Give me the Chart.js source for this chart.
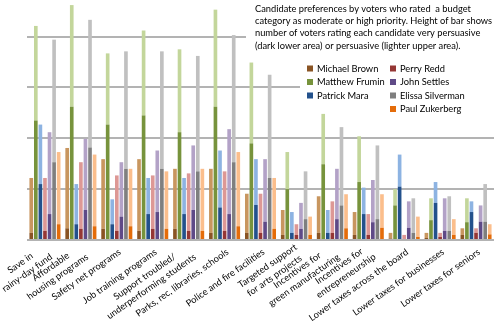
<!DOCTYPE html>
<html>
<head>
<meta charset="utf-8">
<script src="https://cdn.jsdelivr.net/npm/chart.js@4/dist/chart.umd.min.js"></script>
<style>
  html, body { margin: 0; padding: 0; background: #fff; }
  #wrap { width: 500px; height: 323px; }
</style>
</head>
<body>
<div id="wrap"><canvas id="prefChart"></canvas></div>
<script>
const categories = [
  ['Save in', 'rainy-day fund'],
  ['Affordable', 'housing programs'],
  'Safety net programs',
  'Job training programs',
  ['Support troubled/', 'underperforming students'],
  'Parks, rec, libraries, schools',
  'Police and fire facilities',
  ['Targeted support', 'for arts projects'],
  ['Incentives for', 'green manufacturing'],
  ['Incentives for', 'entrepreneurship'],
  'Lower taxes across the board',
  'Lower taxes for businesses',
  'Lower taxes for seniors'
];

const candidates = ['Michael Brown', 'Matthew Frumin', 'Patrick Mara', 'Perry Redd',
  'John Settles', 'Elissa Silverman', 'Paul Zukerberg'];

// dark lower part = very persuasive, light upper part = persuasive
const brownVery = [1.4, 2.3, 2.2, 1.8, 2.2, 1.4, 1.4, 1.0, 1.4, 1.0, 0.3, 0.4, 1.0];
const brownPers = [10.8, 15.8, 13.7, 14.1, 11.8, 12.6, 7.7, 4.9, 7.2, 4.5, 1.1, 1.0, 1.3];
const fruminVery = [23.5, 26.2, 22.7, 24.5, 21.2, 26.2, 19.0, 10.0, 14.9, 11.4, 6.8, 3.9, 3.5];
const fruminPers = [18.6, 20.0, 14.0, 16.7, 16.3, 19.1, 15.9, 7.3, 9.9, 9.0, 3.2, 4.3, 4.7];
const maraVery = [11.0, 3.1, 3.1, 5.1, 5.1, 6.4, 6.9, 1.4, 1.4, 5.1, 10.5, 7.3, 5.5];
const maraPers = [11.7, 7.9, 4.9, 7.1, 7.1, 11.2, 9.0, 4.1, 4.5, 5.2, 6.3, 4.1, 2.1];
const reddVery = [1.8, 2.2, 1.8, 2.2, 1.8, 1.8, 1.4, 1.0, 1.4, 1.0, 0.2, 0.6, 1.4];
const reddPers = [10.4, 13.1, 10.9, 10.5, 11.3, 11.7, 7.7, 2.1, 6.2, 4.1, 0.8, 0.8, 0.9];
const settlesVery = [5.1, 5.9, 4.6, 5.5, 5.9, 5.1, 3.6, 2.2, 4.1, 3.5, 2.4, 1.8, 3.6];
const settlesPers = [16.1, 14.0, 10.7, 12.1, 12.7, 16.7, 12.3, 5.1, 9.9, 8.3, 5.2, 6.4, 3.2];
const silvermanVery = [15.3, 18.2, 14.0, 14.0, 13.5, 15.3, 12.2, 4.1, 6.8, 4.1, 1.4, 1.8, 3.6];
const silvermanPers = [24.1, 25.1, 23.1, 23.1, 22.7, 25.0, 20.3, 9.4, 15.4, 14.5, 6.8, 6.8, 7.4];
const zukerbergVery = [3.1, 2.7, 2.7, 2.2, 1.8, 2.7, 2.2, 1.0, 2.3, 2.4, 0.6, 1.0, 1.1];
const zukerbergPers = [14.2, 14.1, 11.3, 11.3, 12.2, 14.6, 10.0, 3.6, 6.7, 6.6, 4.0, 3.1, 2.0];

const yTicks = [0, 10, 20, 30, 40];

const noteLines = [
  'Candidate preferences by voters who rated  a budget',
  'category as moderate or high priority. Height of bar shows',
  'number of voters rating each candidate very persuasive',
  '(dark lower area) or persuasive (lighter upper area).'
];

const veryValues = [brownVery, fruminVery, maraVery, reddVery, settlesVery, silvermanVery, zukerbergVery];
const persValues = [brownPers, fruminPers, maraPers, reddPers, settlesPers, silvermanPers, zukerbergPers];
const darkColors = ['#8a5424', '#77933c', '#23518c', '#953735', '#5f4a87', '#7f7f7f', '#e46c0a'];
const lightColors = ['#c8965f', '#c3d69b', '#8db3e2', '#dd9895', '#b3a2c7', '#c0c0c0', '#fbbe8c'];

const FONT = '9.3px Lato, "Liberation Sans", sans-serif';

const datasets = [];
candidates.forEach((name, i) => {
  datasets.push({
    label: name,
    data: veryValues[i],
    backgroundColor: darkColors[i],
    stack: 's' + i,
    categoryPercentage: 0.89,
    barPercentage: 0.8
  });
  datasets.push({
    label: name + ' (persuasive)',
    data: persValues[i],
    backgroundColor: lightColors[i],
    stack: 's' + i,
    categoryPercentage: 0.89,
    barPercentage: 0.8
  });
});

// white boxes for the note and legend, drawn over the grid but under the bars
const notesPlugin = {
  id: 'notes',
  beforeDatasetsDraw(chart) {
    const ctx = chart.ctx;
    ctx.save();
    ctx.fillStyle = '#ffffff';
    ctx.fillRect(246, 0, 254, 53);
    ctx.fillRect(300, 53, 200, 64);

    ctx.fillStyle = '#000000';
    ctx.font = FONT;
    ctx.textBaseline = 'middle';
    ctx.textAlign = 'left';
    noteLines.forEach((line, i) => {
      ctx.fillText(line, 255, 8.5 + i * 12.4);
    });

    // legend, two columns filled top to bottom
    candidates.forEach((name, i) => {
      const col = i < 3 ? 0 : 1;
      const row = i < 3 ? i : i - 3;
      const mx = col === 0 ? 307 : 390;
      const my = 68.5 + row * 13.5;
      ctx.fillStyle = darkColors[i];
      ctx.fillRect(mx, my - 3, 6, 6);
      ctx.fillStyle = '#000000';
      ctx.fillText(name, mx + 10, my);
    });
    ctx.restore();
  }
};

// category labels: rotated, lines centred within each label block
const labelsPlugin = {
  id: 'catLabels',
  afterDraw(chart) {
    const xs = chart.scales.x;
    const ctx = chart.ctx;
    ctx.save();
    ctx.font = FONT;
    ctx.fillStyle = '#000000';
    ctx.textBaseline = 'middle';
    ctx.textAlign = 'center';
    categories.forEach((label, i) => {
      const lines = Array.isArray(label) ? label : [label];
      const w = Math.max(...lines.map(l => ctx.measureText(l).width));
      ctx.save();
      ctx.translate(xs.getPixelForTick(i) + 3, xs.top + 11);
      ctx.rotate(-35 * Math.PI / 180);
      lines.forEach((line, j) => {
        ctx.fillText(line, -w / 2, (j - (lines.length - 1) / 2) * 12);
      });
      ctx.restore();
    });
    ctx.restore();
  }
};

const prefChart = new Chart(document.getElementById('prefChart'), {
  type: 'bar',
  data: { labels: categories, datasets: datasets },
  options: {
    responsive: true,
    maintainAspectRatio: false,
    animation: false,
    layout: { autoPadding: false, padding: { top: 0, right: 6, bottom: 0, left: 0 } },
    plugins: {
      legend: { display: false },
      tooltip: { enabled: false }
    },
    scales: {
      x: {
        stacked: true,
        grid: { display: false, drawTicks: false },
        border: { display: false },
        ticks: { display: false },
        afterFit(scale) { scale.height = 83; }
      },
      y: {
        stacked: true,
        min: 0,
        max: 47.2,
        grid: { color: '#b3b3b3', lineWidth: 2, drawTicks: false },
        border: { display: false },
        ticks: { display: false },
        afterBuildTicks(scale) { scale.ticks = yTicks.map(v => ({ value: v })); },
        afterFit(scale) { scale.width = 27; }
      }
    }
  },
  plugins: [notesPlugin, labelsPlugin]
});
</script>
</body>
</html>
